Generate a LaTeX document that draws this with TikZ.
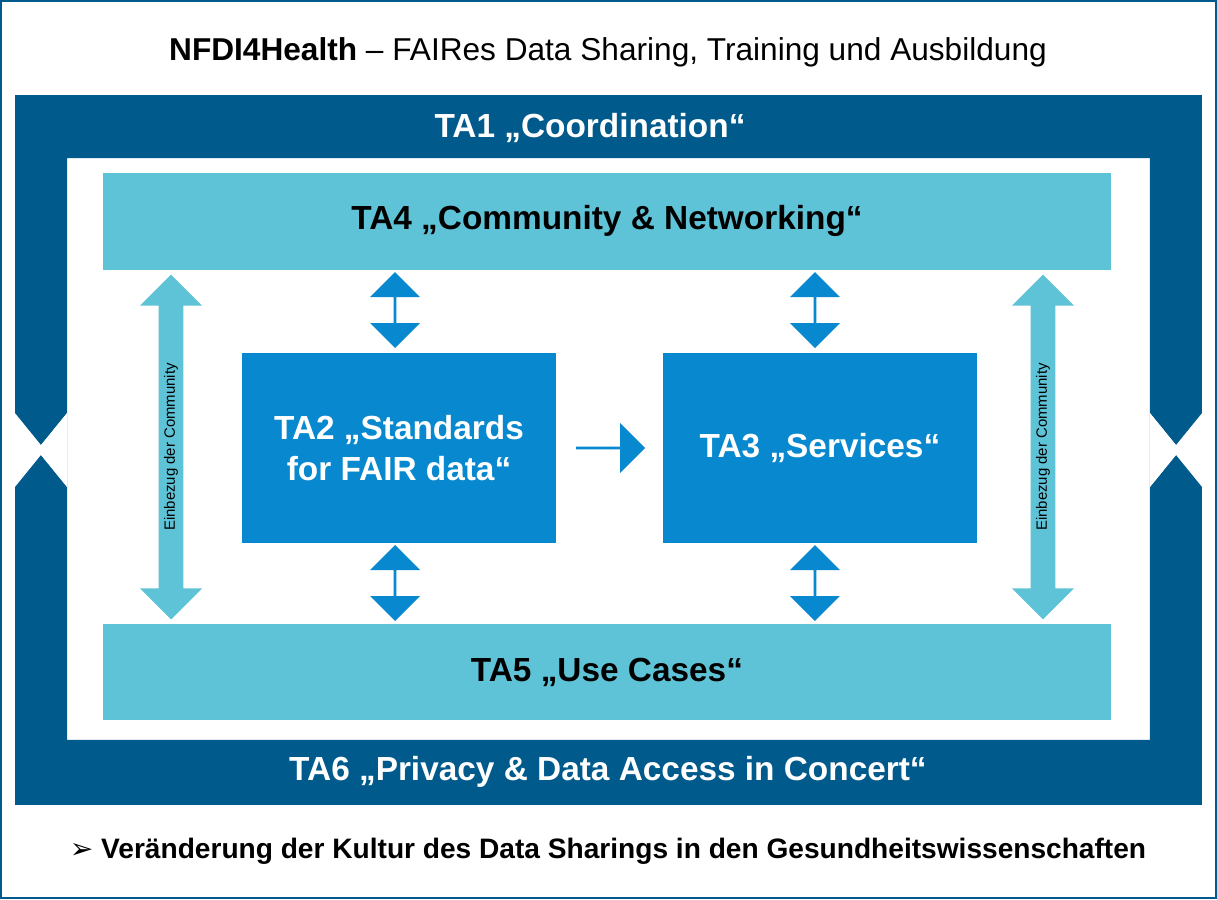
\documentclass[tikz,border=0pt]{standalone}
\usepackage{fontspec}
\setmainfont{Liberation Sans}
\newfontfamily\symfont{DejaVu Sans}
\usetikzlibrary{positioning, shapes.arrows}
\definecolor{darkblue}{HTML}{005A8C}
\definecolor{lightblue}{HTML}{5FC3D7}
\definecolor{midblue}{HTML}{0888CE}
\tikzset{
  band/.style={fill=lightblue, draw=none, minimum width=20.16cm, minimum height=1.94cm, font=\bfseries\fontsize{19}{22}\selectfont},
  task/.style={fill=midblue, draw=none, minimum width=6.3cm, minimum height=3.8cm, text=white, align=center, font=\bfseries\fontsize{19}{23}\selectfont},
  link/.style={double arrow, fill=midblue, draw=none, rotate=90, minimum height=1.52cm, minimum width=1.0cm, double arrow head extend=0.12cm, inner sep=0pt},
  community/.style={double arrow, fill=lightblue, draw=none, minimum height=6.9cm, minimum width=1.24cm, double arrow head extend=0.22cm, inner sep=0pt, rotate=90, font=\fontsize{8.5}{10}\selectfont}
}
\begin{document}
\begin{tikzpicture}[x=0.02cm, y=-0.02cm]
		
		%Frame and title
		\draw[darkblue, line width=1.2pt] (1,1) rectangle (1216,898);
		\node (title) at (608,52) {\fontsize{18}{22}\selectfont\textbf{NFDI4Health} – FAIRes Data Sharing, Training und Ausbildung};
		
		%Dark ring with notches
		\fill[darkblue, even odd rule] (15,95) -- (1202,95) -- (1202,413) -- (1176,445) -- (1150,413) -- (1150,487) -- (1176,455) -- (1202,487) -- (1202,805) -- (15,805) -- (15,487) -- (41,455) -- (67,487) -- (67,413) -- (41,445) -- (15,413) -- cycle
		(67,158) rectangle (1150,740);
		\fill[white] (1150,413) -- (1150,487) -- (1176,455) -- (1176,445) -- cycle;
		\fill[white] (67,413) -- (67,487) -- (41,455) -- (41,445) -- cycle;
		\node[text=white, font=\bfseries\fontsize{19}{22}\selectfont] (ta1) at (590,128) {TA1 „Coordination“};
		\node[text=white, font=\bfseries\fontsize{19}{22}\selectfont] (ta6) at (608,772) {TA6 „Privacy \& Data Access in Concert“};
		
		%Bands and tasks
		\node[band] (ta4) at (607,221) {TA4 „Community \& Networking“};
		\node[band] (ta5) at (607,672) {TA5 „Use Cases“};
		\node[task] (ta2) at (399,448) {TA2 „Standards\\for FAIR data“};
		\node[task] (ta3) at (820,448) {TA3 „Services“};
		
		%Links
		\node[link] (l1) at (395,310) {};
		\node[link] (l2) at (815,310) {};
		\node[link] (l3) at (395,583) {};
		\node[link] (l4) at (815,583) {};
		\node[single arrow, fill=midblue, draw=none, minimum height=1.38cm, minimum width=1.0cm, single arrow head extend=0.12cm, inner sep=0pt] (flow) at (610,448) {};
		\node[community] (c1) at (171,447) {Einbezug der Community};
		\node[community] (c2) at (1043,447) {Einbezug der Community};
		
		%Conclusion
		\node (result) at (608,851) {\fontsize{16}{20}\selectfont{\symfont ➢} \textbf{Veränderung der Kultur des Data Sharings in den Gesundheitswissenschaften}};
		
\end{tikzpicture}
\end{document}
